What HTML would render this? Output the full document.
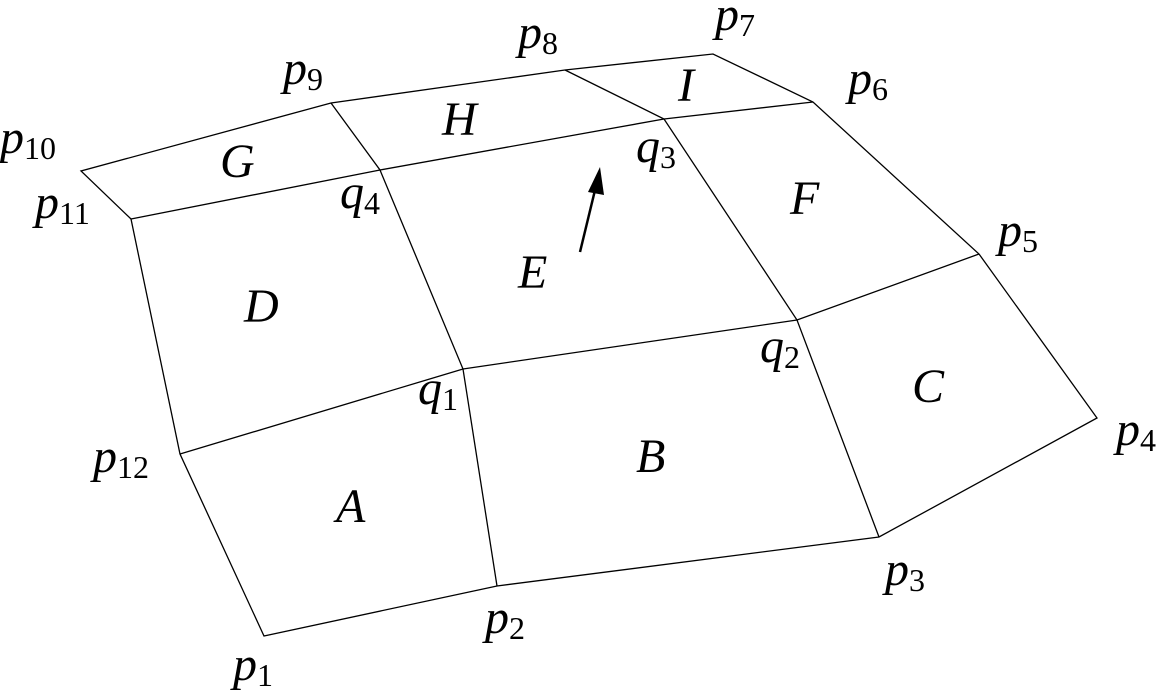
<!DOCTYPE html>
<html><head><style>html,body{margin:0;padding:0;background:#fff}svg{display:block}
text{font-family:"Liberation Serif",serif;font-style:italic;font-size:48px;fill:#000}
tspan.s{font-style:normal;font-size:32px}</style></head><body>
<svg width="1163" height="690" viewBox="0 0 1163 690" xmlns="http://www.w3.org/2000/svg">
<g stroke="#000" stroke-width="1.3" fill="none">
<polygon points="264,636 497,586 879,537 1097,418 979,254 813,102 713,54 565,70 331,103 81,171 131,219 180,454"/>
<polyline points="180,454 463,369 797,320 979,254"/>
<polyline points="131,219 380,170 664,119 813,102"/>
<polyline points="497,586 463,369 380,170 331,103"/>
<polyline points="879,537 797,320 664,119 565,70"/>
<line x1="580" y1="252" x2="596" y2="186" stroke-width="2.5"/>
</g>
<polygon points="600,167 588,192 604,195" fill="#000"/>
<text x="336" y="522">A</text>
<text x="636" y="472">B</text>
<text x="912" y="402">C</text>
<text x="244" y="322">D</text>
<text x="518" y="288">E</text>
<text x="790" y="214">F</text>
<text x="220" y="177">G</text>
<text x="442" y="135">H</text>
<text x="678" y="101">I</text>
<text x="233" y="680">p<tspan class="s" dy="6">1</tspan></text>
<text x="485" y="633">p<tspan class="s" dy="6">2</tspan></text>
<text x="885" y="585">p<tspan class="s" dy="6">3</tspan></text>
<text x="1116" y="445">p<tspan class="s" dy="6">4</tspan></text>
<text x="998" y="246">p<tspan class="s" dy="6">5</tspan></text>
<text x="848" y="94">p<tspan class="s" dy="6">6</tspan></text>
<text x="715" y="30">p<tspan class="s" dy="6">7</tspan></text>
<text x="518" y="48">p<tspan class="s" dy="6">8</tspan></text>
<text x="283" y="84">p<tspan class="s" dy="6">9</tspan></text>
<text x="0" y="153">p<tspan class="s" dy="6">10</tspan></text>
<text x="35" y="218">p<tspan class="s" dy="6">11</tspan></text>
<text x="93" y="472">p<tspan class="s" dy="6">12</tspan></text>
<text x="418" y="404">q<tspan class="s" dy="6">1</tspan></text>
<text x="760" y="362">q<tspan class="s" dy="6">2</tspan></text>
<text x="636" y="162">q<tspan class="s" dy="6">3</tspan></text>
<text x="340" y="208">q<tspan class="s" dy="6">4</tspan></text>
</svg>
</body></html>
